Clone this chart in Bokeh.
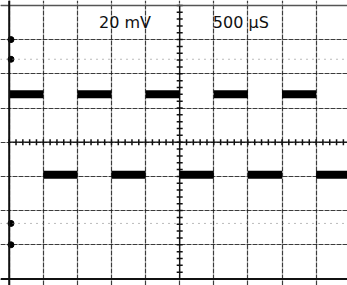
import numpy as np
from bokeh.plotting import figure
from bokeh.models import Span, FixedTicker, ColumnDataSource, Label
from bokeh.embed import file_html
from bokeh.resources import INLINE

# ---- scope settings / readouts ----
volts_per_div_mv = 20
time_per_div_ms = 0.5
n_div_x = 10
n_div_y = 8
label_volts = "20 mV"
label_time = "500 µS"

# ---- square wave: edges (ms) and level of each half period (mV) ----
edge_times_ms = [0.0, 0.5, 1.0, 1.5, 2.0, 2.5, 3.0, 3.5, 4.0, 4.5, 5.0]
levels_mv = [28, -19, 28, -19, 28, -19, 28, -19, 28, -19]

# graticule reference (dotted) lines and left-edge markers (mV)
ref_lines_mv = [48.5, -47.5]
marker_levels_mv = [60, 48.5, -47.5, -60]

W, H = 347, 285
ms_per_px = 0.5 / 34.1
mv_per_px = 20 / 34.2
x0 = -8.7 * ms_per_px
x1 = x0 + W * ms_per_px
y1 = 80 + 4.9 * mv_per_px
y0 = y1 - H * mv_per_px

p = figure(width=W, height=H, x_range=(x0, x1), y_range=(y0, y1),
           output_backend="svg", toolbar_location=None,
           x_axis_location=None, y_axis_location=None, min_border=0)
p.outline_line_color = None
p.background_fill_color = "white"
p.border_fill_color = "white"

x_major = [i * time_per_div_ms for i in range(n_div_x + 1)]
y_major = [(i - n_div_y // 2) * volts_per_div_mv for i in range(n_div_y + 1)]
p.xgrid.ticker = FixedTicker(ticks=x_major)
p.ygrid.ticker = FixedTicker(ticks=y_major)
for g in (p.xgrid, p.ygrid):
    g.grid_line_color = "#1a1a1a"
    g.grid_line_width = 1.2
    g.grid_line_dash = "5 1"
    g.grid_line_alpha = 0.85

# borders
top = n_div_y // 2 * volts_per_div_mv
p.add_layout(Span(location=top, dimension="width", line_color="#555555", line_width=1.5))
p.add_layout(Span(location=-top, dimension="width", line_color="#111111", line_width=2))
p.add_layout(Span(location=0, dimension="height", line_color="#111111", line_width=2))

# dotted reference lines
for lv in ref_lines_mv:
    p.add_layout(Span(location=lv, dimension="width", line_color="#777777",
                      line_width=1, line_dash="1 5"))

# centre-axis minor ticks (5 per division)
xc = n_div_x / 2 * time_per_div_ms
tx = np.arange(0, n_div_x * 5 + 1) * time_per_div_ms / 5
ty = (np.arange(0, n_div_y * 5 + 1) - n_div_y * 5 / 2) * volts_per_div_mv / 5
th = 3 * mv_per_px
tw = 3 * ms_per_px
p.segment(x0=tx, x1=tx, y0=-th, y1=th, line_color="#111111", line_width=1.5)
p.segment(x0=xc - tw, x1=xc + tw, y0=ty, y1=ty, line_color="#111111", line_width=1.5)
p.segment(x0=[0], x1=[n_div_x * time_per_div_ms], y0=[0], y1=[0], line_color="#111111", line_width=1.3)
p.segment(x0=[xc], x1=[xc], y0=[-top], y1=[top], line_color="#111111", line_width=1.3)

# left edge markers
p.scatter(x=[0.026] * len(marker_levels_mv), y=marker_levels_mv, size=6,
          marker="circle", color="black")

# waveform
src = ColumnDataSource(dict(t0=edge_times_ms[:-1], t1=edge_times_ms[1:], lv=levels_mv))
p.segment(x0="t0", x1="t1", y0="lv", y1="lv", source=src,
          line_color="black", line_width=8, line_cap="butt")

# readouts
p.add_layout(Label(x=1.698, y=69.8, text=label_volts, text_font="DejaVu Sans",
                   text_font_size="16px", text_color="#111111",
                   text_align="center", text_baseline="alphabetic"))
p.add_layout(Label(x=3.396, y=69.8, text=label_time, text_font="DejaVu Sans",
                   text_font_size="16px", text_color="#111111",
                   text_align="center", text_baseline="alphabetic"))

open("out.html", "w", encoding="utf-8").write(file_html(p, INLINE))
